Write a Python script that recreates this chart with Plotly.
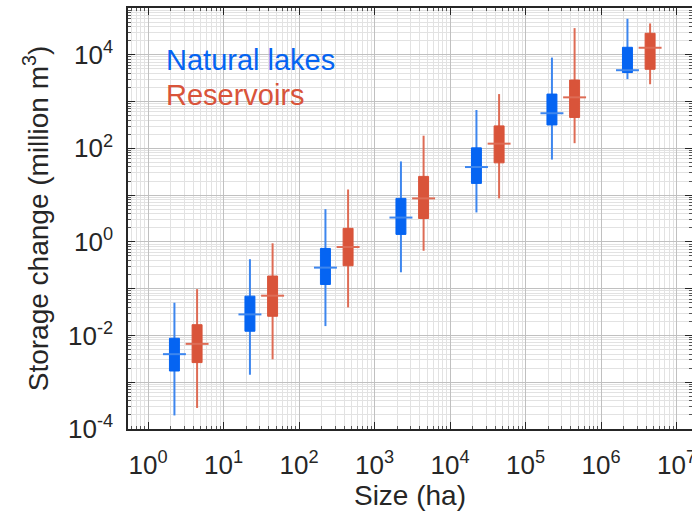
import plotly.graph_objects as go

# Size bins (ha): lower edge of each decade bin
bins = [1, 10, 100, 1e3, 1e4, 1e5, 1e6]

# Natural lakes: log10 of storage change (million m3)
lake_lo = [-3.71, -2.84, -1.80, -0.65, 0.63, 1.76, 3.48]
lake_q1 = [-2.76, -1.91, -0.91, 0.16, 1.25, 2.50, 3.62]
lake_med = [-2.40, -1.55, -0.55, 0.52, 1.60, 2.75, 3.67]
lake_q3 = [-2.06, -1.16, -0.14, 0.93, 2.01, 3.16, 4.16]
lake_hi = [-1.30, -0.37, 0.70, 1.72, 2.82, 3.94, 4.77]

# Reservoirs
res_lo = [-3.55, -2.51, -1.40, -0.19, 0.93, 2.11, 3.37]
res_q1 = [-2.58, -1.59, -0.51, 0.50, 1.69, 2.66, 3.69]
res_med = [-2.18, -1.15, -0.11, 0.93, 2.10, 3.09, 4.15]
res_q3 = [-1.77, -0.73, 0.29, 1.40, 2.48, 3.46, 4.46]
res_hi = [-1.01, -0.03, 1.12, 2.27, 3.16, 4.57, 4.67]

x_tickvals = [10 ** k for k in range(0, 8)]
x_ticktext = ["10<sup>%d</sup>" % k for k in range(0, 8)]
y_tickvals = [10 ** k for k in range(-4, 6)]
y_ticktext = [("10<sup>%d</sup>" % k) if k % 2 == 0 else "" for k in range(-4, 6)]

BLUE = "#0564f2"
BLUE_W = "#3d86ee"
RED = "#d9543a"
RED_W = "#de6c55"

FONT = "Liberation Sans, Arial, sans-serif"

fig = go.Figure()


def add_series(offset, lo, q1, med, q3, hi, col, wcol):
    box_hw = 10 ** 0.066
    med_hw = 10 ** 0.152
    wx, wy, bx, by, mx, my = [], [], [], [], [], []
    for b, l, a, m, c, h in zip(bins, lo, q1, med, q3, hi):
        xc = b * offset
        wx += [xc, xc, None]
        wy += [10 ** l, 10 ** h, None]
        x0, x1 = xc / box_hw, xc * box_hw
        bx += [x0, x1, x1, x0, x0, None]
        by += [10 ** a, 10 ** a, 10 ** c, 10 ** c, 10 ** a, None]
        mx += [xc / med_hw, xc * med_hw, None]
        my += [10 ** m, 10 ** m, None]
    fig.add_trace(go.Scatter(x=wx, y=wy, mode="lines",
                             line=dict(color=wcol, width=2), showlegend=False,
                             hoverinfo="skip"))
    fig.add_trace(go.Scatter(x=bx, y=by, mode="lines", fill="toself",
                             fillcolor=col, line=dict(color=col, width=1),
                             showlegend=False, hoverinfo="skip"))
    fig.add_trace(go.Scatter(x=mx, y=my, mode="lines",
                             line=dict(color=wcol, width=2), showlegend=False,
                             hoverinfo="skip"))


add_series(10 ** 0.35, lake_lo, lake_q1, lake_med, lake_q3, lake_hi, BLUE, BLUE_W)
add_series(10 ** 0.65, res_lo, res_q1, res_med, res_q3, res_hi, RED, RED_W)

axis_common = dict(
    type="log", showline=True, linecolor="#262626", linewidth=1.5, mirror="ticks",
    ticks="inside", ticklen=7, tickcolor="#262626", showgrid=True,
    gridcolor="#c0c0c0", gridwidth=1, zeroline=False, automargin=False,
    ticklabeloverflow="allow",
    tickfont=dict(family=FONT, size=26, color="#262626"),
    minor=dict(dtick="D1", showgrid=True, gridcolor="#e2e2e2",
               gridwidth=1, ticks="inside", ticklen=3, tickcolor="#555555"),
)

fig.update_xaxes(**axis_common, range=[-0.265, 7.205], tickvals=x_tickvals,
                 ticktext=x_ticktext, ticklabelstandoff=12,
                 title=dict(text="Size (ha)", font=dict(family=FONT, size=28, color="#262626"),
                            standoff=6))
fig.update_yaxes(**axis_common, range=[-4, 5.0], tickvals=y_tickvals,
                 ticktext=y_ticktext, ticklabelstandoff=8,
                 title=dict(text="Storage change (million m<sup>3</sup>)",
                            font=dict(family=FONT, size=28, color="#262626"), standoff=11))

fig.add_annotation(text="Natural lakes", xref="paper", yref="paper", x=0.064, y=0.876,
                   xanchor="left", yanchor="middle", showarrow=False,
                   font=dict(family=FONT, size=29, color=BLUE))
fig.add_annotation(text="Reservoirs", xref="paper", yref="paper", x=0.064, y=0.793,
                   xanchor="left", yanchor="middle", showarrow=False,
                   font=dict(family=FONT, size=29, color=RED))

fig.update_layout(width=692, height=520, margin=dict(l=128, r=0, t=8, b=91),
                  plot_bgcolor="white", paper_bgcolor="white", showlegend=False)

fig.write_html("out.html")
